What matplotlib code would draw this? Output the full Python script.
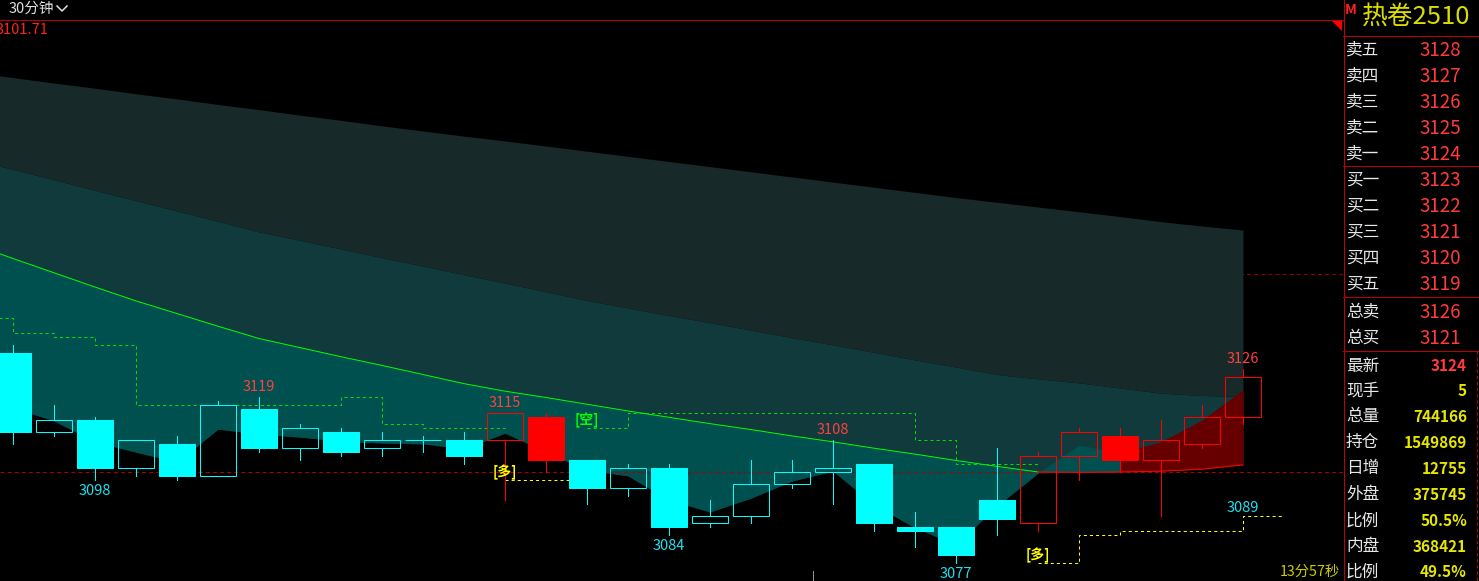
import numpy as np
import matplotlib.pyplot as plt
from matplotlib.patches import Rectangle, Polygon

plt.rcParams['font.family'] = ['Noto Sans CJK SC', 'DejaVu Sans']
plt.rcParams['lines.scale_dashes'] = False

# ---------------- data ----------------
# 30-minute candles, bar 0 .. 30
opens = [3130, 3110, 3113, 3101, 3107, 3099, 3116, 3106, 3110, 3106, 3108, 3108, 3108, 3114, 3103, 3096,
         3101, 3087, 3089, 3097, 3100, 3102, 3086, 3086, 3093, 3087, 3104, 3109, 3103, 3107, 3114]
highs = [3132, 3117, 3114, 3108, 3109, 3118, 3119, 3112, 3111, 3110, 3109, 3110, 3115, 3115, 3103, 3102,
         3102, 3093, 3103, 3103, 3108, 3102, 3090, 3086, 3106, 3105, 3111, 3111, 3113, 3117, 3126]
lows = [3107, 3109, 3098, 3099, 3098, 3099, 3105, 3103, 3104, 3104, 3105, 3102, 3093, 3100, 3092, 3094,
        3084, 3086, 3087, 3096, 3092, 3085, 3081, 3077, 3084, 3085, 3098, 3100, 3089, 3106, 3112]
closes = [3110, 3113, 3101, 3108, 3099, 3117, 3106, 3111, 3105, 3108, 3108, 3104, 3115, 3103, 3096, 3101,
          3086, 3089, 3097, 3100, 3101, 3087, 3085, 3079, 3088, 3104, 3110, 3103, 3108, 3114, 3124]
# 1 = bullish trend colour (red), 0 = bearish (cyan)
trend = [0] * 12 + [1, 1] + [0] * 11 + [1] * 6

# indicator series, bar -1 .. 30
upper = [3200.9, 3199.6, 3198.2, 3196.9, 3195.5, 3194.2, 3192.8, 3191.5, 3190.1, 3188.8, 3187.4, 3186.1,
         3184.8, 3183.6, 3182.3, 3181.0, 3179.7, 3178.4, 3177.1, 3175.8, 3174.5, 3173.2, 3171.9, 3170.6,
         3169.3, 3168.1, 3166.9, 3165.7, 3164.5, 3163.2, 3162.1, 3161.1]
middle = [3179.0, 3176.4, 3173.8, 3171.1, 3168.5, 3165.9, 3163.3, 3160.6, 3158.5, 3156.3, 3154.1, 3152.0,
          3149.8, 3147.7, 3145.5, 3143.3, 3141.4, 3139.5, 3137.7, 3135.8, 3133.9, 3132.1, 3130.2, 3128.3,
          3126.5, 3124.6, 3123.5, 3122.5, 3121.2, 3119.9, 3119.3, 3119.1]
slow = [3157.6, 3153.9, 3150.3, 3146.7, 3143.2, 3140.0, 3136.8, 3133.7, 3131.4, 3129.1, 3126.9, 3124.6,
        3122.3, 3120.4, 3118.8, 3117.1, 3115.4, 3113.8, 3112.2, 3110.7, 3109.1, 3107.6, 3106.0, 3104.5,
        3102.9, 3101.4, 3100.0, 3099.9, 3100.0, 3100.2, 3100.7, 3101.8]
fast = [3119.4, 3116.2, 3112.9, 3107.6, 3105.0, 3102.5, 3110.8, 3109.6, 3108.8, 3107.8, 3107.3, 3107.1,
        3105.8, 3109.8, 3105.0, 3100.5, 3099.0, 3092.9, 3089.9, 3093.4, 3097.7, 3100.2, 3091.7, 3085.9,
        3081.6, 3091.4, 3099.7, 3106.8, 3104.8, 3107.6, 3113.1, 3120.7]
cloud_red = [0] * 28 + [1] * 4
nan = np.nan
short_stop = [3139, 3135, 3134, 3132, 3117, 3117, 3117, 3117, 3117, 3119, 3112, 3111, 3111, nan, nan,
              3111, 3115, 3115, 3115, 3115, 3115, 3115, 3115, 3108, 3102, 3102, nan, nan, nan, nan, nan, nan]
long_stop = [nan] * 13 + [3098, 3098] + [nan] * 11 + [3077, 3084, 3085, 3085, 3085, 3089]

ref_price = 3100
upper_ref = 3150
peak_bars = [6, 12, 20, 30]
trough_bars = [2, 16, 23]
long_signal_bars = [12, 25]
short_signal_bars = [14]

ask_labels = ['卖五', '卖四', '卖三', '卖二', '卖一']
ask_prices = [3128, 3127, 3126, 3125, 3124]
bid_labels = ['买一', '买二', '买三', '买四', '买五']
bid_prices = [3123, 3122, 3121, 3120, 3119]
total_labels = ['总卖', '总买']
total_prices = [3126, 3121]
stat_labels = ['最新', '现手', '总量', '持仓', '日增', '外盘', '比例', '内盘', '比例']
stat_values = ['3124', '5', '744166', '1549869', '12755', '375745', '50.5%', '368421', '49.5%']

# ---------------- drawing ----------------
W, H = 1479, 581
LW = 0.72
CYAN = '#00ffff'
RED = '#ff0000'

fig = plt.figure(figsize=(W / 100, H / 100), dpi=100, facecolor='black')
ax = fig.add_axes([0, 0, 1343 / W, 561 / H])
ax.set_xlim(-13 / 41, (1343 - 13) / 41)
ax.set_ylim(3072.46, 3214.13)
ax.axis('off')

ix = np.arange(-1, 31)
up = np.array(upper)
mid = np.array(middle)
sl = np.array(slow)
fa = np.array(fast)
cr = np.array(cloud_red) == 1

ax.axhline(upper_ref, color='#8c0014', lw=LW, dashes=(2.9, 2.2), zorder=0)
ax.fill_between(ix, mid, up, color='#172929', lw=0, zorder=1)
ax.fill_between(ix, np.minimum(sl, fa), mid, color='#103a3c', lw=0, zorder=1)
teal_where = ~cr | np.r_[True, ~cr[:-1]]
ax.fill_between(ix, sl, fa, where=teal_where, color='#005050', lw=0, zorder=1)
ax.fill_between(ix, sl, fa, where=cr, color='#660000', lw=0, zorder=1)

ax.axhline(ref_price, color='#a80000', lw=LW, dashes=(2.9, 2.2), zorder=2)

cross = int(np.argmax(fa > sl))
ax.plot(ix[:cross], sl[:cross], color='#00ff00', lw=LW, zorder=3)
ax.plot(ix[cross - 1:], sl[cross - 1:], color=RED, lw=LW, zorder=3)

ax.plot(ix, short_stop, drawstyle='steps-post', color='#00e000', lw=LW, dashes=(2.2, 2.2), zorder=3)
ls = np.array(long_stop)
ax.plot(np.append(ix, ix[-1] + 0.95), np.append(ls, ls[-1]), drawstyle='steps-post',
        color='#ffff00', lw=LW, dashes=(2.2, 2.2), zorder=3)

for i in range(len(opens)):
    o, h, l, c = opens[i], highs[i], lows[i], closes[i]
    col = RED if trend[i] else CYAN
    top, bot = max(o, c), min(o, c)
    if h > top:
        ax.plot([i, i], [top, h], color=col, lw=LW, zorder=4)
    if l < bot:
        ax.plot([i, i], [l, bot], color=col, lw=LW, zorder=4)
    filled = c < o
    ax.add_patch(Rectangle((i - 0.45, bot), 0.9, top - bot, facecolor=col if filled else 'none',
                           edgecolor=col, lw=LW, zorder=4))

for b in peak_bars:
    ax.annotate(str(highs[b]), (b, highs[b]), xytext=(0, 3), textcoords='offset pixels',
                ha='center', va='bottom', color='#ff4040', fontsize=10.5, zorder=6)
for b in trough_bars:
    ax.annotate(str(lows[b]), (b, lows[b]), xytext=(0, -4), textcoords='offset pixels',
                ha='center', va='top', color='#20e0f0', fontsize=10.5, zorder=6)
ax.annotate(str(int(ls[-1])), (30, ls[-1]), xytext=(0, 1), textcoords='offset pixels',
            ha='center', va='bottom', color='#20e0f0', fontsize=10.5, zorder=6)
for b in long_signal_bars:
    ax.annotate('[多]', (b, ls[b + 1]), xytext=(0, 0), textcoords='offset pixels',
                ha='center', va='bottom', color='#ffff00', fontsize=10, fontweight='bold', zorder=6)
for b in short_signal_bars:
    ax.annotate('[空]', (b, short_stop[b + 1]), xytext=(0, 0), textcoords='offset pixels',
                ha='center', va='bottom', color='#00ff00', fontsize=10, fontweight='bold', zorder=6)

ax.plot([19.5, 19.5], [3072.46, 3075.0], color='#909090', lw=LW, zorder=4)

# ---------------- overlay: header and quote panel ----------------
ov = fig.add_axes([0, 0, 1, 1], facecolor='none')
ov.set_xlim(0, W)
ov.set_ylim(H, 0)
ov.axis('off')

ov.text(9, 9, '30分钟', color='#e0e0e0', fontsize=10.5, va='center', ha='left')
ov.plot([57, 62, 67], [6, 11, 6], color='#e0e0e0', lw=1.1)
ov.plot([0, 1343], [19.5, 19.5], color='#c00000', lw=LW)
ov.add_patch(Polygon([[1331, 20], [1342, 20], [1342, 31]], closed=True, color='#ff0000', lw=0))
ov.text(-4, 30, '3101.71', color='#ff2020', fontsize=10.5, va='center', ha='left')
ov.text(1340, 572, '13分57秒', color='#cccc00', fontsize=10.3, va='center', ha='right')

ov.plot([1343.5, 1343.5], [0, H], color='#c00000', lw=LW)
for y in [35.5, 165.5, 297, 350.5]:
    ov.plot([1343, W], [y, y], color='#c00000', lw=LW)
ov.plot([1477, 1477], [351, H], color='#c00000', lw=LW, dashes=(2.2, 2.2))

ov.text(1345, 10, 'M', color='#ff2020', fontsize=10, fontweight='bold', va='center', ha='left')
ov.text(1362, 17, '热卷2510', color='#dcdc00', fontsize=18.5, va='center', ha='left')

row_y = [50.5, 76.5, 102, 128, 154, 180, 206.5, 232, 258, 284]
for lab, val, y in zip(ask_labels + bid_labels, ask_prices + bid_prices, row_y):
    ov.text(1346, y, lab, color='#e8e8e8', fontsize=12, va='center', ha='left')
    ov.text(1461, y, str(val), color='#ff3b3b', fontsize=13.5, va='center', ha='right')
for lab, val, y in zip(total_labels, total_prices, [312, 338]):
    ov.text(1346, y, lab, color='#e8e8e8', fontsize=12, va='center', ha='left')
    ov.text(1461, y, str(val), color='#ff3b3b', fontsize=13.5, va='center', ha='right')
stat_y = [366, 391.5, 417, 443, 469, 495, 521, 546.5, 572]
for k, (lab, val, y) in enumerate(zip(stat_labels, stat_values, stat_y)):
    ov.text(1346, y, lab, color='#e8e8e8', fontsize=12, va='center', ha='left')
    ov.text(1467, y, val, color='#ff3b3b' if k == 0 else '#e6e600', fontsize=11,
            fontweight='bold', va='center', ha='right')

fig.savefig('out.png', dpi=100, facecolor='black')
